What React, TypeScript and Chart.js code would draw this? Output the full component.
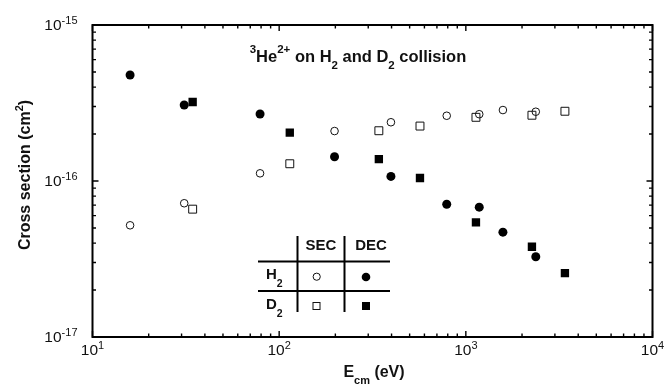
import { useEffect, useRef } from 'react';
import { Chart, registerables } from 'chart.js';

Chart.register(...registerables);

// ---- data ----
const energyH2 = [15.9, 31, 79, 198, 397, 790, 1180, 1580, 2370];
const secH2 = [5.2e-17, 7.2e-17, 1.12e-16, 2.09e-16, 2.38e-16, 2.62e-16, 2.68e-16, 2.85e-16, 2.78e-16];
const decH2 = [4.78e-16, 3.07e-16, 2.69e-16, 1.43e-16, 1.07e-16, 7.1e-17, 6.8e-17, 4.7e-17, 3.27e-17];
const energyD2 = [34.4, 114, 342, 568, 1133, 2260, 3395];
const secD2 = [6.6e-17, 1.29e-16, 2.1e-16, 2.25e-16, 2.56e-16, 2.64e-16, 2.8e-16];
const decD2 = [3.21e-16, 2.04e-16, 1.38e-16, 1.045e-16, 5.43e-17, 3.79e-17, 2.57e-17];

const xTickExponents = [1, 2, 3, 4];
const yTickExponents = [-15, -16, -17];
const seriesNames = ['H2 SEC', 'D2 SEC', 'H2 DEC', 'D2 DEC'];
const tableColumns = ['SEC', 'DEC'];
const tableRows = ['H', 'D'];

const FONT = '"Liberation Sans", Arial, Helvetica, sans-serif';

type Run = { t: string; k?: 'sup' | 'sub' };

function drawRuns(
  ctx: CanvasRenderingContext2D,
  runs: Run[],
  x: number,
  y: number,
  size: number,
  bold: boolean,
  align: 'left' | 'center' | 'right',
  small: number,
  supOff: number,
  subOff: number
) {
  const mainF = `${bold ? 'bold ' : ''}${size}px ${FONT}`;
  const smallF = `${bold ? 'bold ' : ''}${small}px ${FONT}`;
  ctx.textAlign = 'left';
  ctx.textBaseline = 'alphabetic';
  let w = 0;
  for (const r of runs) {
    ctx.font = r.k ? smallF : mainF;
    w += ctx.measureText(r.t).width;
  }
  let cx = align === 'center' ? x - w / 2 : align === 'right' ? x - w : x;
  for (const r of runs) {
    ctx.font = r.k ? smallF : mainF;
    const dy = r.k === 'sup' ? -supOff : r.k === 'sub' ? subOff : 0;
    ctx.fillText(r.t, cx, y + dy);
    cx += ctx.measureText(r.t).width;
  }
  return w;
}

const framePlugin = {
  id: 'frame',
  afterDraw(chart: any) {
    const ctx: CanvasRenderingContext2D = chart.ctx;
    const { left, right, top, bottom } = chart.chartArea;
    const xs = chart.scales.x;
    const ys = chart.scales.y;
    ctx.save();
    ctx.strokeStyle = '#000';
    ctx.fillStyle = '#000';

    // frame
    ctx.lineWidth = 2;
    ctx.strokeRect(left, top, right - left, bottom - top);

    // ticks
    ctx.lineWidth = 1.4;
    ctx.beginPath();
    for (let d = 1; d <= 4; d++) {
      for (let m = 1; m <= 9; m++) {
        if (d === 4 && m > 1) break;
        const v = m * Math.pow(10, d);
        const px = xs.getPixelForValue(v);
        const len = m === 1 ? 6 : 3.5;
        ctx.moveTo(px, bottom);
        ctx.lineTo(px, bottom - len);
        ctx.moveTo(px, top);
        ctx.lineTo(px, top + len);
      }
    }
    for (let d = -17; d <= -15; d++) {
      for (let m = 1; m <= 9; m++) {
        if (d === -15 && m > 1) break;
        const v = m * Math.pow(10, d);
        const py = ys.getPixelForValue(v);
        const len = m === 1 ? 6 : 3.5;
        ctx.moveTo(left, py);
        ctx.lineTo(left + len, py);
        ctx.moveTo(right, py);
        ctx.lineTo(right - len, py);
      }
    }
    ctx.stroke();

    // tick labels
    ctx.fillStyle = '#111';
    for (const e of xTickExponents) {
      const px = xs.getPixelForValue(Math.pow(10, e));
      drawRuns(ctx, [{ t: '10' }, { t: String(e), k: 'sup' }], px, 355, 15.5, false, 'center', 11, 6.5, 0);
    }
    for (const e of yTickExponents) {
      const py = ys.getPixelForValue(Math.pow(10, e));
      drawRuns(ctx, [{ t: '10' }, { t: String(e), k: 'sup' }], left - 15, py + 5, 15.5, false, 'right', 11, 6.5, 0);
    }

    // axis titles
    ctx.fillStyle = '#111';
    drawRuns(ctx, [{ t: 'E' }, { t: 'cm', k: 'sub' }, { t: ' (eV)' }], 374, 377, 16, true, 'center', 11, 0, 7);
    ctx.save();
    ctx.translate(30, 175);
    ctx.rotate(-Math.PI / 2);
    drawRuns(ctx, [{ t: 'Cross section (cm' }, { t: '2', k: 'sup' }, { t: ')' }], 0, 0, 16, true, 'center', 11, 7, 0);
    ctx.restore();

    // title
    drawRuns(
      ctx,
      [
        { t: '3', k: 'sup' },
        { t: 'He' },
        { t: '2+', k: 'sup' },
        { t: ' on H' },
        { t: '2', k: 'sub' },
        { t: ' and D' },
        { t: '2', k: 'sub' },
        { t: ' collision' },
      ],
      358,
      61.5,
      16.5,
      true,
      'center',
      11.5,
      8.5,
      7.5
    );

    // legend table
    ctx.lineWidth = 2;
    ctx.strokeStyle = '#000';
    ctx.beginPath();
    ctx.moveTo(258, 261.5);
    ctx.lineTo(390, 261.5);
    ctx.moveTo(258, 291);
    ctx.lineTo(390, 291);
    ctx.moveTo(297.5, 236);
    ctx.lineTo(297.5, 312);
    ctx.moveTo(344.5, 236);
    ctx.lineTo(344.5, 312);
    ctx.stroke();

    ctx.fillStyle = '#111';
    drawRuns(ctx, [{ t: tableColumns[0] }], 321, 250, 15, true, 'center', 11, 0, 0);
    drawRuns(ctx, [{ t: tableColumns[1] }], 371, 250, 15, true, 'center', 11, 0, 0);
    drawRuns(ctx, [{ t: tableRows[0] }, { t: '2', k: 'sub' }], 266, 279, 15, true, 'left', 10.5, 0, 8);
    drawRuns(ctx, [{ t: tableRows[1] }, { t: '2', k: 'sub' }], 266, 309, 15, true, 'left', 10.5, 0, 8);

    // legend markers
    ctx.lineWidth = 1;
    ctx.strokeStyle = '#111';
    ctx.beginPath();
    ctx.arc(316.7, 276.7, 3.6, 0, Math.PI * 2);
    ctx.stroke();
    ctx.fillStyle = '#000';
    ctx.beginPath();
    ctx.arc(366, 277, 4.3, 0, Math.PI * 2);
    ctx.fill();
    ctx.strokeRect(313, 302.5, 7, 7);
    ctx.fillRect(362, 302, 8, 8);

    ctx.restore();
  },
};

export default function App() {
  const ref = useRef<HTMLCanvasElement | null>(null);
  useEffect(() => {
    if (!ref.current) return;
    const pts = (xs: number[], ys: number[]) => xs.map((x, i) => ({ x, y: ys[i] }));
    const chart = new Chart(ref.current, {
      type: 'scatter',
      data: {
        datasets: [
          {
            label: seriesNames[0],
            data: pts(energyH2, secH2),
            pointStyle: 'circle',
            pointRadius: 3.8,
            borderColor: '#111',
            backgroundColor: 'rgba(0,0,0,0)',
            borderWidth: 1,
          },
          {
            label: seriesNames[1],
            data: pts(energyD2, secD2),
            pointStyle: 'rect',
            pointRadius: 5.6,
            borderColor: '#111',
            backgroundColor: 'rgba(0,0,0,0)',
            borderWidth: 1,
          },
          {
            label: seriesNames[2],
            data: pts(energyH2, decH2),
            pointStyle: 'circle',
            pointRadius: 4.5,
            borderColor: '#000',
            backgroundColor: '#000',
            borderWidth: 0,
          },
          {
            label: seriesNames[3],
            data: pts(energyD2, decD2),
            pointStyle: 'rect',
            pointRadius: 5.9,
            borderColor: '#000',
            backgroundColor: '#000',
            borderWidth: 0,
          },
        ] as any,
      },
      options: {
        animation: false,
        responsive: false,
        devicePixelRatio: 1,
        layout: { padding: { left: 92.5, top: 25, right: 11.5, bottom: 52 } },
        scales: {
          x: { type: 'logarithmic', min: 10, max: 10000, display: false },
          y: { type: 'logarithmic', min: 1e-17, max: 1e-15, display: false },
        },
        plugins: { legend: { display: false }, tooltip: { enabled: false } },
        elements: { point: { hoverRadius: 0 } },
      } as any,
      plugins: [framePlugin],
    });
    return () => chart.destroy();
  }, []);
  return (
    <div style={{ position: 'fixed', left: 0, top: 0, width: 664, height: 389, background: '#fff' }}>
      <canvas ref={ref} width={664} height={389} style={{ width: 664, height: 389, display: 'block' }} />
    </div>
  );
}
